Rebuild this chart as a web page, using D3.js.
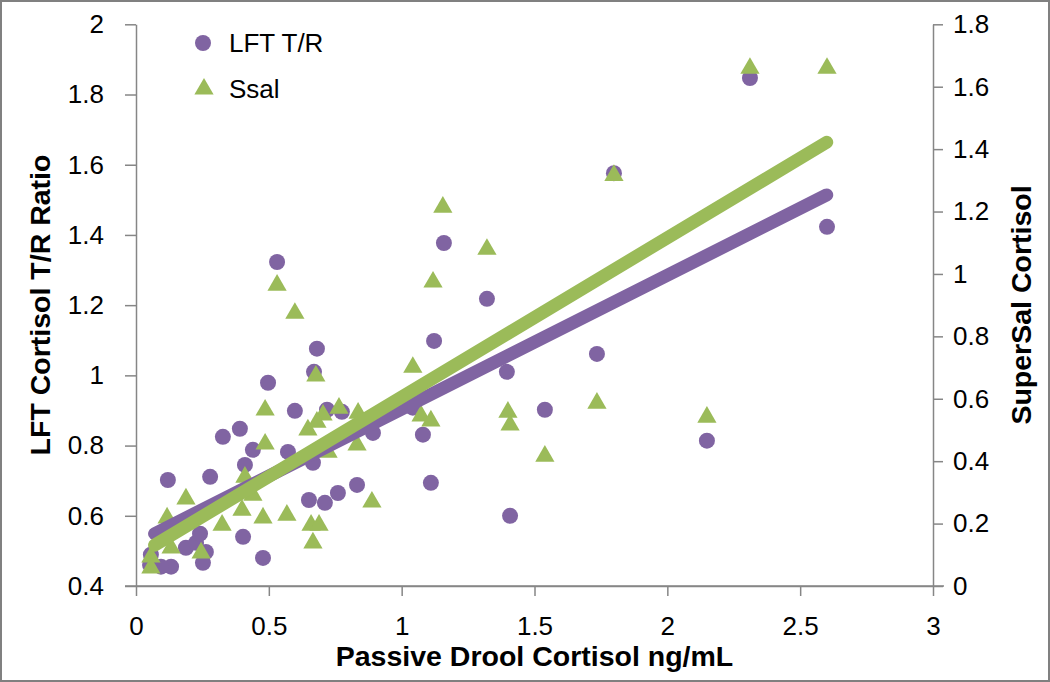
<!DOCTYPE html>
<html>
<head>
<meta charset="utf-8">
<script src="https://cdn.jsdelivr.net/npm/d3@7"></script>
<style>
  html, body { margin: 0; padding: 0; background: #fff; }
  svg { display: block; }
  text { font-family: "Liberation Sans", Arial, sans-serif; fill: #000; }
</style>
</head>
<body>
<svg id="chart" width="1050" height="682"></svg>
<script>
// ---- data ----
const lftX = [0.531,0.681,0.670,0.497,0.598,0.719,0.775,0.892,0.391,0.327,0.440,0.572,0.666,0.410,0.120,0.279,0.651,0.711,0.760,0.832,0.403,0.478,0.188,0.226,0.263,0.252,0.132,0.094,0.056,0.241,0.053,1.159,1.321,1.122,1.396,1.735,1.539,1.080,1.042,1.110,1.408,1.799,2.149,2.311,2.601];
const lftY = [1.323,1.076,1.010,0.979,0.899,0.902,0.896,0.836,0.848,0.825,0.788,0.782,0.751,0.745,0.702,0.711,0.645,0.637,0.665,0.688,0.540,0.480,0.509,0.523,0.497,0.466,0.455,0.455,0.489,0.549,0.460,1.377,1.218,1.098,1.010,1.061,0.902,0.831,0.908,0.694,0.600,1.576,0.814,1.847,1.423];

const ssalX = [2.311,2.601,1.799,1.155,1.321,1.118,0.531,0.598,1.042,0.677,1.735,2.149,0.486,1.400,1.073,1.110,1.408,1.539,0.888,0.764,0.836,0.704,0.681,0.647,0.832,0.486,0.723,0.410,0.440,0.399,0.478,0.568,0.324,0.659,0.689,0.666,0.188,0.117,0.132,0.245,0.056,0.056];
const ssalY = [1.659,1.659,1.316,1.214,1.079,0.974,0.964,0.874,0.701,0.673,0.586,0.541,0.564,0.557,0.545,0.529,0.516,0.416,0.269,0.570,0.554,0.548,0.525,0.500,0.452,0.455,0.429,0.349,0.291,0.243,0.218,0.227,0.195,0.195,0.195,0.138,0.279,0.218,0.122,0.106,0.093,0.058];

// trend lines (end points)
const trendX = [0.07, 2.60];
const lftTrendY = [0.549, 1.514];
const ssalTrendY = [0.131, 1.422];

const xTicks = [0, 0.5, 1, 1.5, 2, 2.5, 3];
const leftTicks = [0.4, 0.6, 0.8, 1, 1.2, 1.4, 1.6, 1.8, 2];
const rightTicks = [0, 0.2, 0.4, 0.6, 0.8, 1, 1.2, 1.4, 1.6, 1.8];

const seriesNames = ["LFT T/R", "Ssal"];
const xTitle = "Passive Drool Cortisol ng/mL";
const yLeftTitle = "LFT Cortisol T/R Ratio";
const yRightTitle = "SuperSal Cortisol";

// ---- styling ----
const purple = "#8064A2";
const green = "#9BBB59";
const axisColor = "#868686";

const svg = d3.select("#chart");

// outer frame
svg.append("rect").attr("x", 1).attr("y", 1).attr("width", 1048).attr("height", 680)
  .attr("fill", "#fff").attr("stroke", "#808080").attr("stroke-width", 2);

const x = d3.scaleLinear().domain([0, 3]).range([136, 933]);
const yL = d3.scaleLinear().domain([0.4, 2]).range([586, 24.3]);
const yR = d3.scaleLinear().domain([0, 1.8]).range([586, 24.3]);
const fmt = d3.format("~g");

function styleAxis(g) {
  g.selectAll("path").attr("stroke", axisColor).attr("stroke-width", 1.5);
  g.selectAll("line").attr("stroke", axisColor).attr("stroke-width", 1.5);
  g.selectAll("text").attr("font-size", 26).attr("font-family", "Liberation Sans, Arial, sans-serif").attr("fill", "#000");
}

// left axis
svg.append("g").attr("transform", "translate(136,0)")
  .call(d3.axisLeft(yL).tickValues(leftTicks).tickFormat(fmt).tickSizeInner(11).tickSizeOuter(0).tickPadding(21))
  .call(styleAxis);

// right axis
svg.append("g").attr("transform", "translate(933,0)")
  .call(d3.axisRight(yR).tickValues(rightTicks).tickFormat(fmt).tickSizeInner(10).tickSizeOuter(0).tickPadding(10))
  .call(styleAxis);

// bottom axis
svg.append("g").attr("transform", "translate(0,586)")
  .call(d3.axisBottom(x).tickValues(xTicks).tickFormat(fmt).tickSizeInner(10).tickSizeOuter(0).tickPadding(21))
  .call(styleAxis);
svg.append("line").attr("x1", 125).attr("x2", 944).attr("y1", 586).attr("y2", 586)
  .attr("stroke", axisColor).attr("stroke-width", 1.5);

// markers: circles
const pts = lftX.map((v, i) => ({x: v, y: lftY[i]}));
svg.append("g").selectAll("circle").data(pts).join("circle")
  .attr("cx", d => x(d.x)).attr("cy", d => yL(d.y)).attr("r", 8).attr("fill", purple);

// markers: triangles
const tri = d3.symbol().type(d3.symbolTriangle).size(160);
const tpts = ssalX.map((v, i) => ({x: v, y: ssalY[i]}));
svg.append("g").selectAll("path").data(tpts).join("path")
  .attr("d", tri).attr("transform", d => `translate(${x(d.x)},${yR(d.y)})`).attr("fill", green);

// trend lines
const lineL = d3.line().x(d => x(d[0])).y(d => yL(d[1]));
const lineR = d3.line().x(d => x(d[0])).y(d => yR(d[1]));
svg.append("path").datum(trendX.map((v, i) => [v, lftTrendY[i]])).attr("d", lineL)
  .attr("stroke", purple).attr("stroke-width", 13).attr("stroke-linecap", "round").attr("fill", "none");
svg.append("path").datum(trendX.map((v, i) => [v, ssalTrendY[i]])).attr("d", lineR)
  .attr("stroke", green).attr("stroke-width", 13).attr("stroke-linecap", "round").attr("fill", "none");

// legend
const lg = svg.append("g");
lg.append("circle").attr("cx", 203).attr("cy", 43).attr("r", 8).attr("fill", purple);
lg.append("path").attr("d", tri).attr("transform", "translate(204,89)").attr("fill", green);
lg.append("text").attr("x", 229).attr("y", 43).attr("dy", "0.35em").attr("font-size", 26).text(seriesNames[0]);
lg.append("text").attr("x", 229).attr("y", 89).attr("dy", "0.35em").attr("font-size", 26).text(seriesNames[1]);

// titles
svg.append("text").attr("x", 534.5).attr("y", 666).attr("text-anchor", "middle")
  .attr("font-size", 28.5).attr("font-weight", "bold").text(xTitle);
svg.append("text").attr("transform", "translate(50,305) rotate(-90)").attr("text-anchor", "middle")
  .attr("font-size", 28.5).attr("font-weight", "bold").text(yLeftTitle);
svg.append("text").attr("transform", "translate(1031,305) rotate(-90)").attr("text-anchor", "middle")
  .attr("font-size", 28.5).attr("font-weight", "bold").text(yRightTitle);
</script>
</body>
</html>
